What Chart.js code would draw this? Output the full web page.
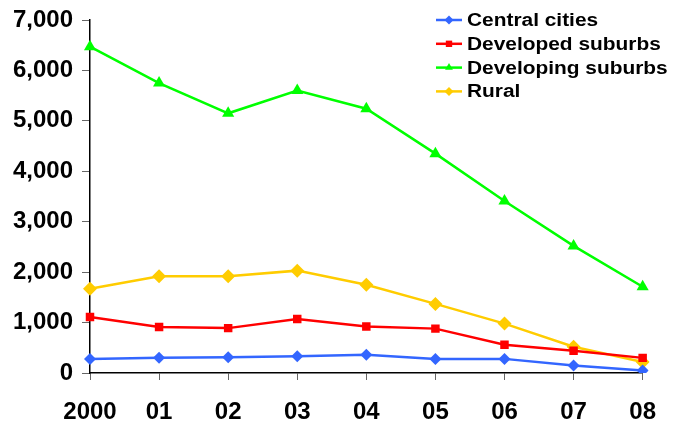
<!DOCTYPE html>
<html>
<head>
<meta charset="utf-8">
<script src="https://cdn.jsdelivr.net/npm/chart.js@4.4.1/dist/chart.umd.min.js"></script>
<style>
  html, body { margin: 0; padding: 0; background: #fff; }
  #wrap { width: 674px; height: 422px; }
</style>
</head>
<body>
<div id="wrap"><canvas id="myChart"></canvas></div>
<script>
const years = ["2000", "01", "02", "03", "04", "05", "06", "07", "08"];

const centralCities = [280, 300, 310, 330, 360, 280, 280, 150, 50];
const developedSuburbs = [1110, 910, 890, 1070, 920, 880, 560, 440, 300];
const developingSuburbs = [6470, 5750, 5150, 5600, 5240, 4350, 3410, 2520, 1710];
const rural = [1670, 1920, 1920, 2030, 1750, 1370, 980, 520, 220];

const series = [
    { label: "Central cities", data: centralCities, color: "#3366FF", style: "rectRot", r: 6 },
    { label: "Developed suburbs", data: developedSuburbs, color: "#FF0000", style: "rect", r: 6 },
    { label: "Developing suburbs", data: developingSuburbs, color: "#00FF00", style: "triangle", r: 7 },
    { label: "Rural", data: rural, color: "#FFCC00", style: "rectRot", r: 7 },
];

const font = "'Liberation Sans', Arial, sans-serif";

// legend drawn by hand: line with marker, then bold label (a bit stretched, like the original)
const legendPlugin = {
    id: "lineLegend",
    afterDraw(chart) {
        const ctx = chart.ctx;
        ctx.save();
        series.forEach(function (s, i) {
            const y = 20 + i * 23.8;
            ctx.strokeStyle = s.color;
            ctx.lineWidth = 2.5;
            ctx.beginPath();
            ctx.moveTo(436, y);
            ctx.lineTo(462, y);
            ctx.stroke();
            ctx.fillStyle = s.color;
            Chart.helpers.drawPoint(ctx, { pointStyle: s.style, radius: 4.5, borderWidth: 0 }, 449, y);
            ctx.save();
            ctx.translate(467, y + 1);
            ctx.scale(1.16, 1);
            ctx.fillStyle = "#000";
            ctx.font = "bold 18px " + font;
            ctx.textBaseline = "middle";
            ctx.fillText(s.label, 0, 0);
            ctx.restore();
        });
        ctx.restore();
    }
};

var ctx = document.getElementById('myChart').getContext('2d');
var myChart = new Chart(ctx, {
    type: 'line',
    data: {
        labels: years,
        datasets: series.map(function (s) {
            return {
                label: s.label,
                data: s.data,
                borderColor: s.color,
                backgroundColor: s.color,
                borderWidth: 2.5,
                pointStyle: s.style,
                pointRadius: s.r,
                pointBorderWidth: 0,
                tension: 0
            };
        })
    },
    options: {
        responsive: true,
        maintainAspectRatio: false,
        animation: false,
        layout: { padding: { top: 20, right: 31, left: 0, bottom: 0 } },
        plugins: {
            legend: { display: false },
            tooltip: { enabled: false }
        },
        scales: {
            x: {
                offset: false,
                grid: { drawOnChartArea: false, drawTicks: true, tickLength: 7, color: "#666" },
                border: { color: "#000", width: 1.5 },
                ticks: { color: "#000", font: { family: font, size: 24, weight: "bold" }, padding: 18, maxRotation: 0 },
                afterFit: function (scale) { scale.height = 49; }
            },
            y: {
                min: 0,
                max: 7000,
                grid: { drawOnChartArea: false, drawTicks: true, tickLength: 8, color: "#666" },
                border: { color: "#000", width: 1.5 },
                ticks: { stepSize: 1000, color: "#000", font: { family: font, size: 24, weight: "bold" }, padding: 9 },
                afterFit: function (scale) {
                    scale.width = 90;
                    scale.paddingTop = 0;
                    scale.paddingBottom = 0;
                }
            }
        }
    },
    plugins: [legendPlugin]
});
</script>
</body>
</html>
